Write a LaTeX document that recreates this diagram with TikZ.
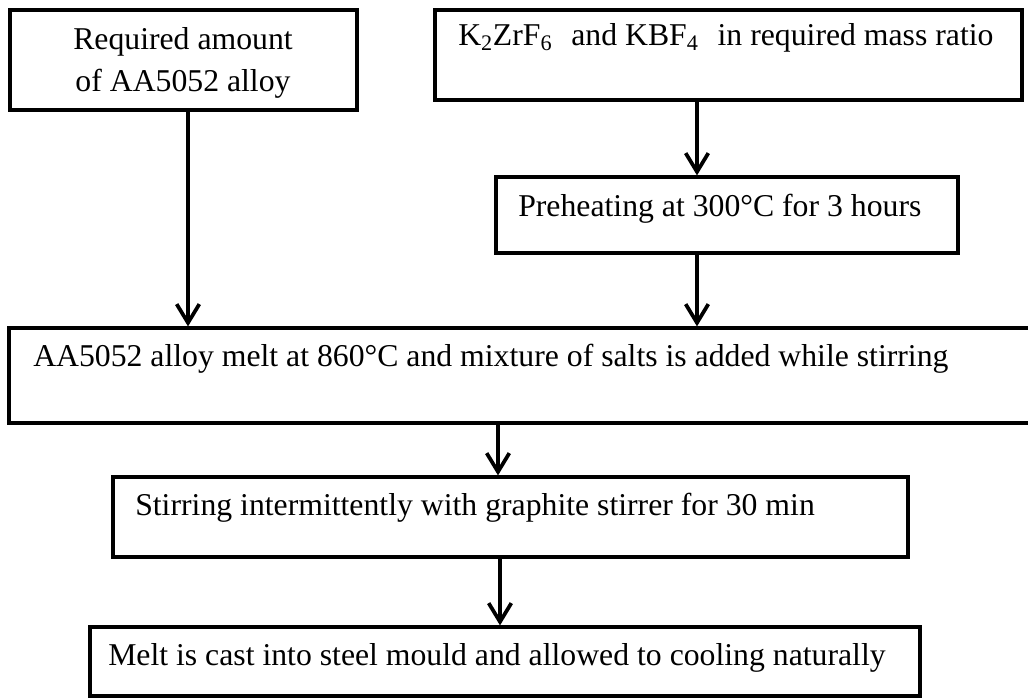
\documentclass[tikz,border=0pt]{standalone}
\usepackage{fontspec}
\setmainfont{Liberation Serif}
\usetikzlibrary{arrows.meta,fit}
\begin{document}
\begin{tikzpicture}[x=0.75pt,y=-0.75pt,
  box/.style={draw,line width=2.4pt,inner sep=0pt},
  txt/.style={inner sep=0pt,font=\fontsize{23.8}{31.5}\selectfont},
  flow/.style={line width=2.8pt,-{Straight Barb[length=14pt,width=17pt,line width=2.8pt]}}]
\useasboundingbox (0,0) rectangle (1028,698);
\clip (0,0) rectangle (1028,698);
% boxes
\node[box,fit={(10,10) (357,110)}] (b1) {};
\node[box,fit={(435,10) (1022,100)}] (b2) {};
\node[box,fit={(496,177) (958,253)}] (b3) {};
\node[box,fit={(9,328) (1045,423)}] (b4) {};
\node[box,fit={(113,477) (908,557)}] (b5) {};
\node[box,fit={(90,627) (920,696)}] (b6) {};
% texts
\node[txt,anchor=base,align=center] (t1) at (183,92) {Required amount\\of AA5052 alloy};
\node[txt,anchor=base west] (t2) at (458,46) {K\textsubscript{2}ZrF\textsubscript{6}\hspace{0.6em}and KBF\textsubscript{4}\hspace{0.6em}in required mass ratio};
\node[txt,anchor=base west] (t3) at (518,217) {Preheating at 300°C for 3 hours};
\node[txt,anchor=base west] (t4) at (33,367) {AA5052 alloy melt at 860°C and mixture of salts is added while stirring};
\node[txt,anchor=base west] (t5) at (135,515) {Stirring intermittently with graphite stirrer for 30 min};
\node[txt,anchor=base west] (t6) at (108,665) {Melt is cast into steel mould and allowed to cooling naturally};
% connectors
\draw[flow] (697,0 |- b2.south) -- (697,0 |- b3.north);
\draw[flow] (188,0 |- b1.south) -- (188,0 |- b4.north);
\draw[flow] (697,0 |- b3.south) -- (697,0 |- b4.north);
\draw[flow] (498,0 |- b4.south) -- (498,0 |- b5.north);
\draw[flow] (500,0 |- b5.south) -- (500,0 |- b6.north);
\end{tikzpicture}
\end{document}
